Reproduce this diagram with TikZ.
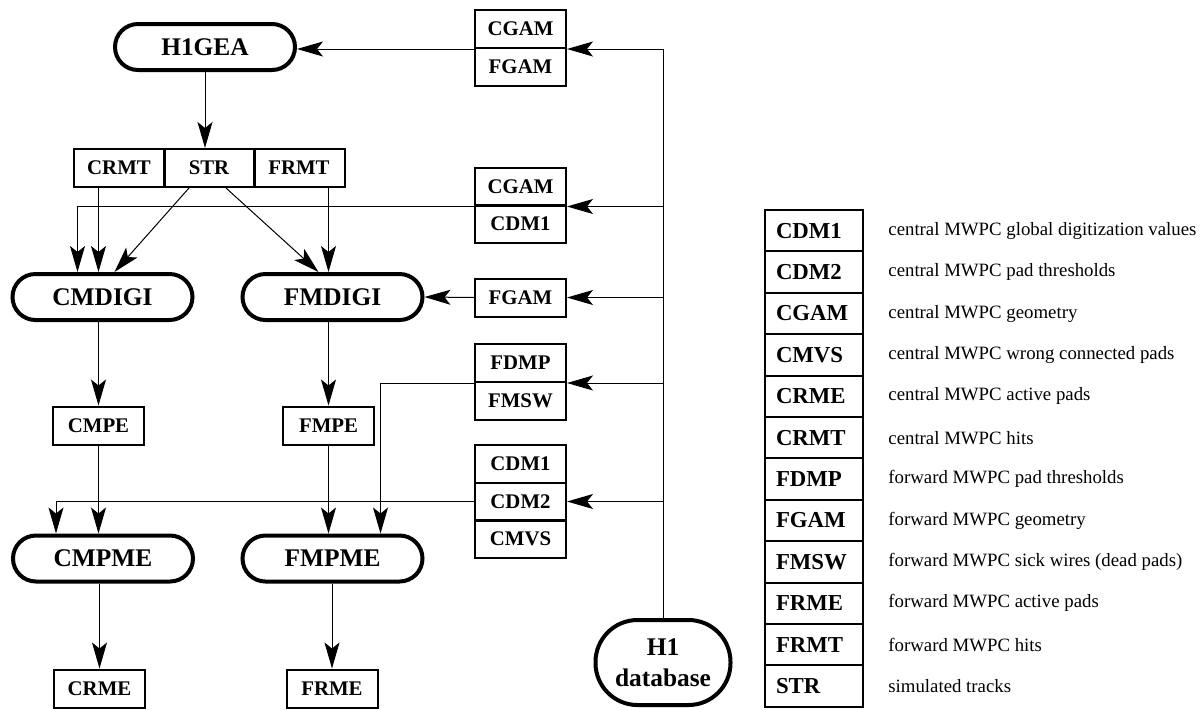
\documentclass[tikz,border=0pt]{standalone}
\usepackage{fontspec}
\setmainfont{Liberation Serif}
\usetikzlibrary{arrows.meta, positioning}

\begin{document}
\begin{tikzpicture}[x=0.5pt, y=0.5pt,
    prog/.style={draw, line width=2pt, rounded corners=11.5pt, minimum width=90pt, minimum height=23pt, inner sep=0pt, font=\fontsize{12.7}{15.5}\selectfont\bfseries},
    bank/.style={draw, line width=1pt, minimum width=45.5pt, minimum height=19pt, inner sep=0pt, font=\fontsize{10.4}{12}\selectfont\bfseries},
    wire/.style={line width=0.5pt},
    flow/.style={wire, -{Stealth[length=13pt, width=7.5pt, inset=3pt]}},
    keyc/.style={draw, line width=1pt, minimum width=49pt, minimum height=20.7pt, inner xsep=5.5pt, text width=38pt, align=left, font=\fontsize{11.4}{13}\selectfont\bfseries},
    desc/.style={anchor=west, inner sep=0pt, font=\fontsize{9.4}{11}\selectfont}
  ]
  \useasboundingbox (0,0) rectangle (1204,-709);

  % programs and the banks they write
  \node[prog] (h1gea) at (205,-47) {H1GEA};
  \node[bank] (crmt) at (119,-168) {CRMT};
  \node[bank] (str) at (209,-168) {STR};
  \node[bank] (frmt) at (299,-168) {FRMT};
  \node[prog] (cmdigi) at (102.5,-297) {CMDIGI};
  \node[prog] (fmdigi) at (332.5,-297) {FMDIGI};
  \node[bank] (cmpe) at (98.5,-425.5) {CMPE};
  \node[bank] (fmpe) at (328.5,-425.5) {FMPE};
  \node[prog] (cmpme) at (103,-558.5) {CMPME};
  \node[prog] (fmpme) at (332.5,-558.5) {FMPME};
  \node[bank] (crme) at (99.5,-688.5) {CRME};
  \node[bank] (frme) at (332,-688.5) {FRME};

  % constants read from the database
  \node[bank] (cgamA) at (520.5,-29) {CGAM};
  \node[bank] (fgamA) at (520.5,-67) {FGAM};
  \node[bank] (cgamB) at (520.5,-186.5) {CGAM};
  \node[bank] (cdmA) at (520.5,-224) {CDM1};
  \node[bank] (fgamB) at (520.5,-297.5) {FGAM};
  \node[bank] (fdmp) at (520.5,-363) {FDMP};
  \node[bank] (fmsw) at (520.5,-401) {FMSW};
  \node[bank] (cdmB) at (520.5,-464) {CDM1};
  \node[bank] (cdm2) at (520.5,-501.5) {CDM2};
  \node[bank] (cmvs) at (520.5,-539) {CMVS};

  \node[prog, align=center, minimum width=67.5pt, minimum height=42.5pt, rounded corners=21pt] (db) at (663,-662.5) {H1\\database};

  % database bus
  \draw[wire] (db.north) -- (db.north |- cgamA.south east);
  \foreach \t in {cgamA.south east, cgamB.south east, fgamB.east, fdmp.south east, cdm2.east}
    \draw[flow] (db.north |- \t) -- (\t);

  % data flow
  \draw[flow] (cgamA.south west) -- (cgamA.south west -| h1gea.east);
  \draw[flow] (h1gea.south) -- (h1gea.south |- str.north);
  \draw[flow] (crmt.south -| cmpe) -- (cmdigi.north -| cmpe);
  \draw[flow] ([xshift=-10pt]str.south) -- ([xshift=6pt]cmdigi.north);
  \draw[flow] ([xshift=8.5pt]str.south) -- ([xshift=-7pt]fmdigi.north);
  \draw[flow] (frmt.south -| fmpe) -- (fmdigi.north -| fmpe);
  \draw[flow] (cgamB.south west) -| ([xshift=-12.5pt]cmdigi.north);
  \draw[flow] (fgamB.west) -- (fmdigi.east);
  \draw[flow] (cmdigi.south -| cmpe) -- (cmpe.north);
  \draw[flow] (fmdigi.south -| fmpe) -- (fmpe.north);
  \draw[flow] (fdmp.south west) -| ([xshift=24pt]fmpme.north);
  \draw[flow] (cdm2.west) -| ([xshift=-23.5pt]cmpme.north);
  \draw[flow] (cmpe.south) -- (cmpe.south |- cmpme.north);
  \draw[flow] (fmpe.south) -- (fmpe.south |- fmpme.north);
  \draw[flow] (cmpme.south -| crme) -- (crme.north);
  \draw[flow] (fmpme.south -| frme) -- (frme.north);

  % bank legend
  \foreach \k/\d [count=\i] in {CDM1/central MWPC global digitization values,
      CDM2/central MWPC pad thresholds, CGAM/central MWPC geometry,
      CMVS/central MWPC wrong connected pads, CRME/central MWPC active pads,
      CRMT/central MWPC hits, FDMP/forward MWPC pad thresholds,
      FGAM/forward MWPC geometry, FMSW/{forward MWPC sick wires (dead pads)},
      FRME/forward MWPC active pads, FRMT/forward MWPC hits, STR/simulated tracks} {
    \node[keyc] (key\i) at (814,-189.3-41.4*\i) {\k};
    \node[desc] (txt\i) at (888,-189.3-41.4*\i) {\d};
  }
\end{tikzpicture}
\end{document}
